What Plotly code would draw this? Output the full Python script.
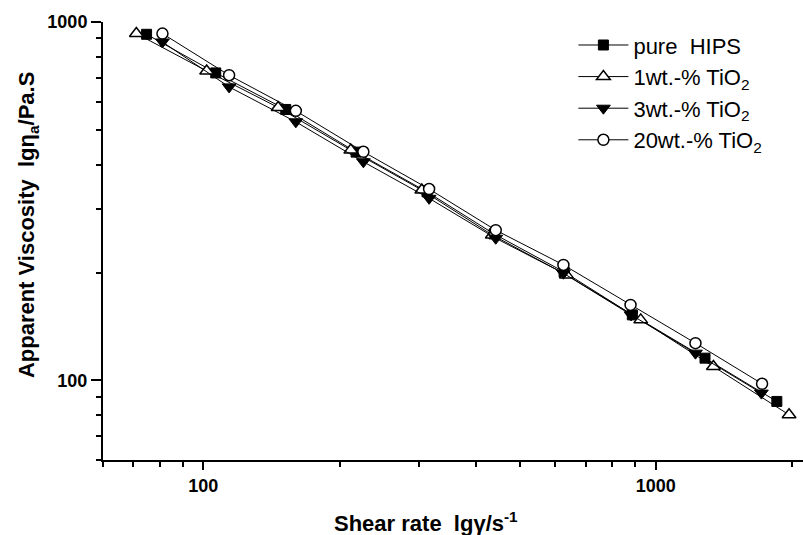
import plotly.graph_objects as go

# Shear rate (1/s) and apparent viscosity (Pa.s)
x_pure = [74.9, 106.5, 152.1, 217.6, 312.3, 439.1, 627.2, 887.7, 1285, 1852]
y_pure = [924.1, 721.0, 570.2, 433.5, 335.7, 256.3, 200.8, 152.4, 115.4, 87.4]

x_1wt = [71.1, 101.7, 146.3, 211.8, 304.0, 435.2, 634.6, 926.4, 1341, 1971]
y_1wt = [928.4, 730.1, 577.6, 439.2, 339.8, 254.6, 197.0, 147.6, 109.4, 80.2]

x_3wt = [81.2, 114.0, 160.1, 225.8, 315.5, 442.9, 625.0, 882.0, 1224, 1712]
y_3wt = [879.6, 659.1, 526.6, 407.4, 322.2, 249.3, 199.2, 152.4, 119.2, 92.2]

x_20wt = [81.2, 114.0, 160.1, 225.8, 315.5, 442.9, 625.0, 879.6, 1224, 1718]
y_20wt = [928.4, 710.5, 565.1, 434.5, 342.0, 262.6, 210.1, 162.5, 127.1, 97.9]

names = ["pure\u00a0\u00a0HIPS", "1wt.-% TiO<sub>2</sub>", "3wt.-% TiO<sub>2</sub>", "20wt.-% TiO<sub>2</sub>"]

x_major = [100, 1000]
x_minor = [60, 70, 80, 90, 200, 300, 400, 500, 600, 700, 800, 900, 2000]
y_major = [100, 1000]
y_minor = [60, 70, 80, 90, 200, 300, 400, 500, 600, 700, 800, 900]

x_title = "<b>Shear rate\u00a0\u00a0lgγ/s<sup>-1</sup></b>"
y_title = "<b>Apparent Viscosity\u00a0\u00a0lgη<sub>a</sub>/Pa.S</b>"

fig = go.Figure()
styles = [
    (x_pure, y_pure, dict(symbol="square", size=10, color="black", line=dict(color="black", width=1))),
    (x_1wt, y_1wt, dict(symbol="triangle-up", size=12, color="white", line=dict(color="black", width=1.5))),
    (x_3wt, y_3wt, dict(symbol="triangle-down", size=12, color="black", line=dict(color="black", width=1))),
    (x_20wt, y_20wt, dict(symbol="circle", size=11, color="white", line=dict(color="black", width=1.5))),
]
for (xs, ys, mk), nm in zip(styles, names):
    fig.add_trace(go.Scatter(x=xs, y=ys, mode="lines+markers", name=nm,
                             line=dict(color="black", width=1), marker=mk,
                             cliponaxis=False))

font = "Liberation Sans, Arial, sans-serif"
axis_common = dict(type="log", automargin=False,
                   showgrid=False, zeroline=False, showline=True, linecolor="black", linewidth=2,
                   ticks="outside", tickwidth=2, tickcolor="black",
                   tickfont=dict(size=18, family=font, color="black"))
fig.update_layout(
    width=803, height=535,
    margin=dict(l=103, r=0, t=22, b=75, autoexpand=False),
    paper_bgcolor="white", plot_bgcolor="white",
    font=dict(family=font, color="black"),
    showlegend=True,
    legend=dict(x=0.672, y=0.995, xanchor="left", yanchor="top",
                font=dict(size=22, family=font, color="black"), bgcolor="rgba(0,0,0,0)",
                itemwidth=50),
    xaxis=dict(axis_common, range=[1.77815, 3.3255], ticklen=8,
               tickvals=x_major, ticktext=["<b>100</b>", "<b>1000</b>"],
               minor=dict(ticks="outside", ticklen=5, tickwidth=2, tickcolor="black", tickvals=x_minor)),
    yaxis=dict(axis_common, range=[1.77815, 3.0], ticklen=10,
               tickvals=y_major, ticktext=["<b>100</b>", "<b>1000</b>"],
               minor=dict(ticks="outside", ticklen=5, tickwidth=2, tickcolor="black", tickvals=y_minor)),
    annotations=[
        dict(text=x_title, xref="paper", yref="paper", x=0.461, y=-0.1416,
             xanchor="center", yanchor="middle", showarrow=False,
             font=dict(size=22, family=font, color="black")),
        dict(text=y_title, xref="paper", yref="paper", x=-0.107, y=0.5365, textangle=-90,
             xanchor="center", yanchor="middle", showarrow=False,
             font=dict(size=22, family=font, color="black")),
    ],
)
fig.write_html("out.html", config={"displayModeBar": False},
               post_script="document.body.style.margin='0';document.body.style.overflow='hidden';")
